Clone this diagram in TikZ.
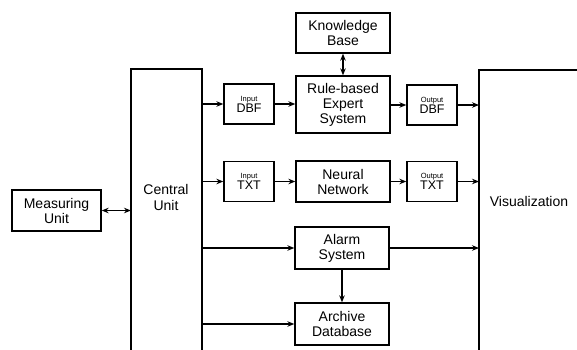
\documentclass[tikz,border=0pt]{standalone}
\usepackage{fontspec}
\setmainfont{Liberation Sans}
\usetikzlibrary{arrows.meta}
\begin{document}
\begin{tikzpicture}[x=1pt,y=-1pt,
  block/.style={draw, line width=1.3pt, align=center, inner sep=1pt,
    minimum width=94pt, font=\fontsize{14}{15}\selectfont},
  io/.style={draw, line width=1.3pt, align=center, inner sep=1pt,
    minimum width=50pt, minimum height=40pt, font=\fontsize{12.5}{11}\selectfont},
  arr/.style={line width=1.3pt, -{Stealth[length=7pt,width=5.5pt]}},
  darr/.style={line width=1.3pt, {Stealth[length=7pt,width=5.5pt]}-{Stealth[length=7pt,width=5.5pt]}}]
  \useasboundingbox (0,0) rectangle (577,349);

    % central unit and visualization (open at the bottom)
    \draw[line width=1.3pt] (131,352) |- (202,69) -- (202,352);
    \coordinate (cuL) at (131,69);
    \coordinate (cuR) at (202,69);
    \node[font=\fontsize{14}{16}\selectfont, align=center] (cu) at (166,197)
      {Central\\Unit};

    \draw[line width=1.3pt] (479,352) |- (580,70);
    \coordinate (vis) at (479,70);
    \node[font=\fontsize{14}{15}\selectfont] (vistxt) at (529,201)
      {Visualization};

    \node[block, minimum width=89pt, minimum height=41pt] (mu) at (56.5,210.5)
      {Measuring\\Unit};

    \node[block, minimum height=40pt] (kb) at (343,33) {Knowledge\\Base};
    \node[block, minimum height=57pt] (rb) at (343,104.5)
      {Rule-based\\Expert\\System};
    \node[block, minimum height=41pt] (nn) at (343,181.5) {Neural\\Network};
    \node[block, minimum height=42pt] (al) at (342,248) {Alarm\\System};
    \node[block, minimum height=42pt] (ad) at (342,324) {Archive\\Database};

    \node[io] (indbf) at (249,104)
      {{\fontsize{7.5}{9}\selectfont Input}\\DBF};
    \node[io] (outdbf) at (432,105)
      {{\fontsize{7.5}{9}\selectfont Output}\\DBF};
    \node[io] (intxt) at (249,181.5)
      {{\fontsize{7.5}{9}\selectfont Input}\\TXT};
    \node[io] (outtxt) at (432,181.5)
      {{\fontsize{7.5}{9}\selectfont Output}\\TXT};

    % connectors
    \draw[darr] (mu.east) -- (cuL |- mu.east);
    \draw[darr] (kb) -- (rb);

    \draw[arr] (cuR |- indbf.west) -- (indbf.west);
    \draw[arr] (indbf) -- (indbf -| rb.west);
    \draw[arr] (outdbf -| rb.east) -- (outdbf);
    \draw[arr] (outdbf.east) -- (vis |- outdbf.east);

    \draw[arr] (cuR |- intxt.west) -- (intxt.west);
    \draw[arr] (intxt) -- (nn);
    \draw[arr] (nn) -- (outtxt);
    \draw[arr] (outtxt.east) -- (vis |- outtxt.east);

    \draw[arr] (cuR |- al.west) -- (al.west);
    \draw[arr] (al.east) -- (vis |- al.east);
    \draw[arr] (cuR |- ad.west) -- (ad.west);
    \draw[arr] (al) -- (ad);

  \end{tikzpicture}
\end{document}
